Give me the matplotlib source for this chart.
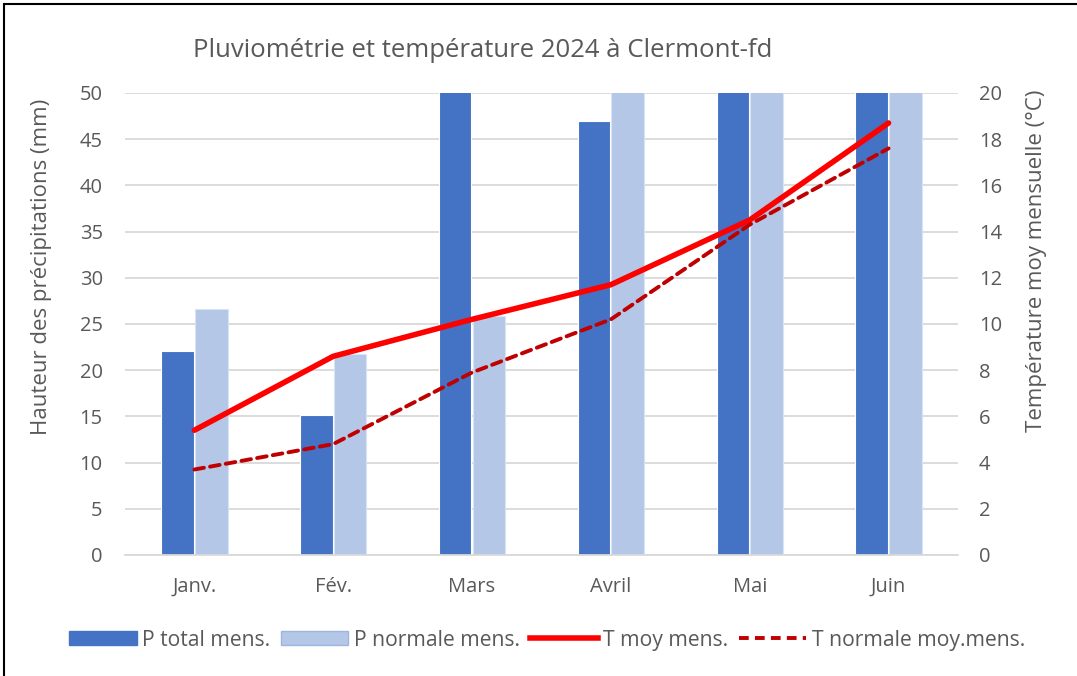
import numpy as np
import matplotlib.pyplot as plt
from matplotlib.patches import Rectangle
from matplotlib.lines import Line2D

plt.rcParams['font.family'] = ['Open Sans', 'DejaVu Sans']

mois = ['Janv.', 'Fév.', 'Mars', 'Avril', 'Mai', 'Juin']
# precipitations (mm) - values above 50 are clipped by the axis
p_total = [22.1, 15.2, 68.0, 47.0, 85.0, 78.0]
p_normale = [26.6, 21.8, 25.9, 62.0, 72.0, 66.0]
# temperatures (°C)
t_moy = [5.4, 8.6, 10.2, 11.7, 14.5, 18.7]
t_normale = [3.7, 4.8, 7.9, 10.2, 14.3, 17.6]

grey = '#595959'
dark_blue = '#4472c4'
light_blue = '#b4c7e7'

fig = plt.figure(figsize=(10.77, 6.76), dpi=100)
ax = fig.add_axes([0.116, 0.179, 0.7735, 0.6835])
ax2 = ax.twinx()

x = np.arange(len(mois))
w = 0.235
ax.bar(x - w/2 - 0.004, p_total, w, color=dark_blue, edgecolor='white', linewidth=0.8, zorder=2)
ax.bar(x + w/2 + 0.004, p_normale, w, color=light_blue, edgecolor='#dae3f3', linewidth=0.8, zorder=2)

ax2.plot(x, t_moy, color='#ff0000', lw=4, solid_capstyle='round', zorder=3)
ax2.plot(x, t_normale, color='#c00000', lw=2.8, ls=(0, (2.5, 1.6)), dash_capstyle='round', zorder=3)

ax.set_xlim(-0.5, len(mois) - 0.5)
ax.set_ylim(0, 50)
ax2.set_ylim(0, 20)
ax.set_yticks(np.arange(0, 51, 5))
ax2.set_yticks(np.arange(0, 21, 2))
ax.set_xticks(x)
ax.set_xticklabels(mois)
ax.grid(axis='y', color='#d9d9d9', lw=1.3, zorder=0)
ax.set_axisbelow(True)

for a in (ax, ax2):
    for s in a.spines.values():
        s.set_visible(False)
    a.tick_params(length=0, labelsize=14.5, colors=grey)
ax.spines['bottom'].set_visible(True)
ax.spines['bottom'].set_color('#d9d9d9')
ax.spines['bottom'].set_linewidth(1.3)
ax.tick_params(axis='x', pad=16)
ax.tick_params(axis='y', pad=16)
ax2.tick_params(axis='y', pad=15)

ax.set_ylabel('Hauteur des précipitations (mm)', fontsize=16, color=grey)
ax.yaxis.set_label_coords(-0.088, 0.623)
ax2.set_ylabel('Température moy mensuelle (°C)', fontsize=16, color=grey)
ax2.yaxis.set_label_coords(1.082, 0.636)

fig.text(0.4485, 0.926, 'Pluviométrie et température 2024 à Clermont-fd', fontsize=18.5,
         color=grey, ha='center', va='center')

handles = [
    Rectangle((0, 0), 1, 1, facecolor=dark_blue, edgecolor=dark_blue),
    Rectangle((0, 0), 1, 1, facecolor=light_blue, edgecolor='#9fb5e0'),
    Line2D([], [], color='#ff0000', lw=4),
    Line2D([], [], color='#c00000', lw=2.8, ls=(0, (2.5, 1.6))),
]
labels = ['P total mens.', 'P normale mens.', 'T moy mens.', 'T normale moy.mens.']
leg = fig.legend(handles, labels, loc='center', bbox_to_anchor=(0.508, 0.053), ncol=4,
                 frameon=False, fontsize=15.2, handlelength=3.2, handleheight=0.65,
                 columnspacing=0.5, handletextpad=0.25, labelcolor=grey)

fig.patches.append(Rectangle((4 / 1077, -0.05), 1.1, 1 - 4 / 676 + 0.05,
                             transform=fig.transFigure, fill=False,
                             edgecolor='black', lw=1.5))

fig.savefig('out.png', dpi=100)
